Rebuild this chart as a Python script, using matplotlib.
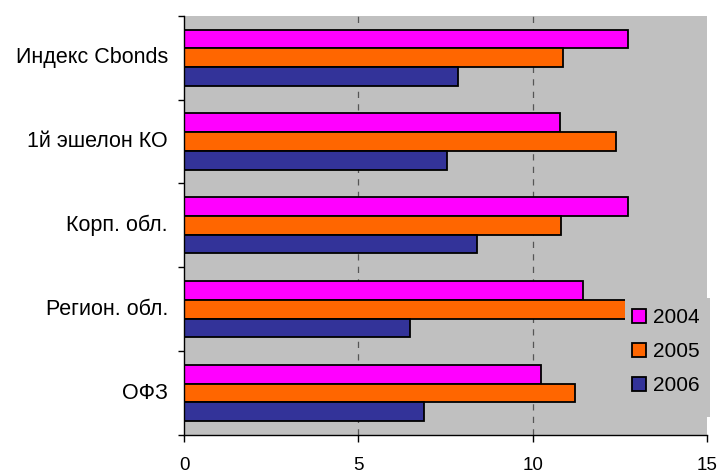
import numpy as np
import matplotlib
matplotlib.use("Agg")
import matplotlib.pyplot as plt
from matplotlib.patches import Rectangle, Patch

plt.rcParams['font.family'] = ['Liberation Sans', 'DejaVu Sans']

# categories listed top to bottom as in the chart
categories = ['Индекс Cbonds', '1й эшелон КО', 'Корп. обл.', 'Регион. обл.', 'ОФЗ']
years = ['2004', '2005', '2006']
v2004 = [12.72, 10.78, 12.73, 11.43, 10.22]
v2005 = [10.85, 12.38, 10.80, 13.70, 11.20]
v2006 = [7.85, 7.55, 8.40, 6.48, 6.88]
colors = ['#FF00FF', '#FF6600', '#333399']
xticks = [0, 5, 10, 15]

W, H = 722, 472
fig = plt.figure(figsize=(W / 100, H / 100), dpi=100)
ax = fig.add_axes([184 / W, 1 - 435 / H, (707.3 - 184) / W, (435 - 15.7) / H])
ax.set_facecolor('#C0C0C0')

n = len(categories)
y = np.arange(n)[::-1]  # top category at highest y
h = 0.223
series = [v2004, v2005, v2006]
for i, vals in enumerate(series):
    ax.barh(y + h * (1 - i), vals, height=h, color=colors[i], edgecolor='black',
            linewidth=1.3, zorder=3)

ax.set_xlim(0, 15)
ax.set_ylim(-0.5, n - 0.5)

# dashed vertical grid at 5 and 10
for gx in [5, 10]:
    ax.axvline(gx, color='#555555', linewidth=0.9, linestyle=(0, (5, 5)), zorder=1)

for side in ['top', 'right']:
    ax.spines[side].set_visible(False)
ax.spines['left'].set_linewidth(1.0)
ax.spines['bottom'].set_linewidth(1.0)
ax.spines['left'].set_zorder(4)

ax.set_xticks(xticks)
ax.set_xticklabels([str(t) for t in xticks], fontsize=13.5)
ax.tick_params(axis='x', direction='out', length=5, width=1, pad=10.5)

ax.set_yticks(y + 0.03)
ax.set_yticklabels(categories, fontsize=15.5)
ax.tick_params(axis='y', which='major', length=0, pad=11.5)
ax.set_yticks(np.arange(n + 1) - 0.5, minor=True)
ax.tick_params(axis='y', which='minor', direction='out', length=4, width=1)

# legend with gray background box overlapping the plot
fig.patches.append(Rectangle((625 / W, 1 - 417 / H), (710 - 625) / W, (417 - 298) / H,
                             transform=fig.transFigure, facecolor='#C0C0C0',
                             edgecolor='none', zorder=5))
handles = [Patch(facecolor=c, edgecolor='black', linewidth=1.3) for c in colors]
fig.legend(handles, years, loc='upper left', bbox_to_anchor=(631.7 / W, 1 - 308 / H),
           frameon=False, fontsize=15, borderpad=0, borderaxespad=0,
           handlelength=0.68, handleheight=0.68, handletextpad=0.35,
           labelspacing=0.72).set_zorder(6)

fig.savefig('out.png', dpi=100)
